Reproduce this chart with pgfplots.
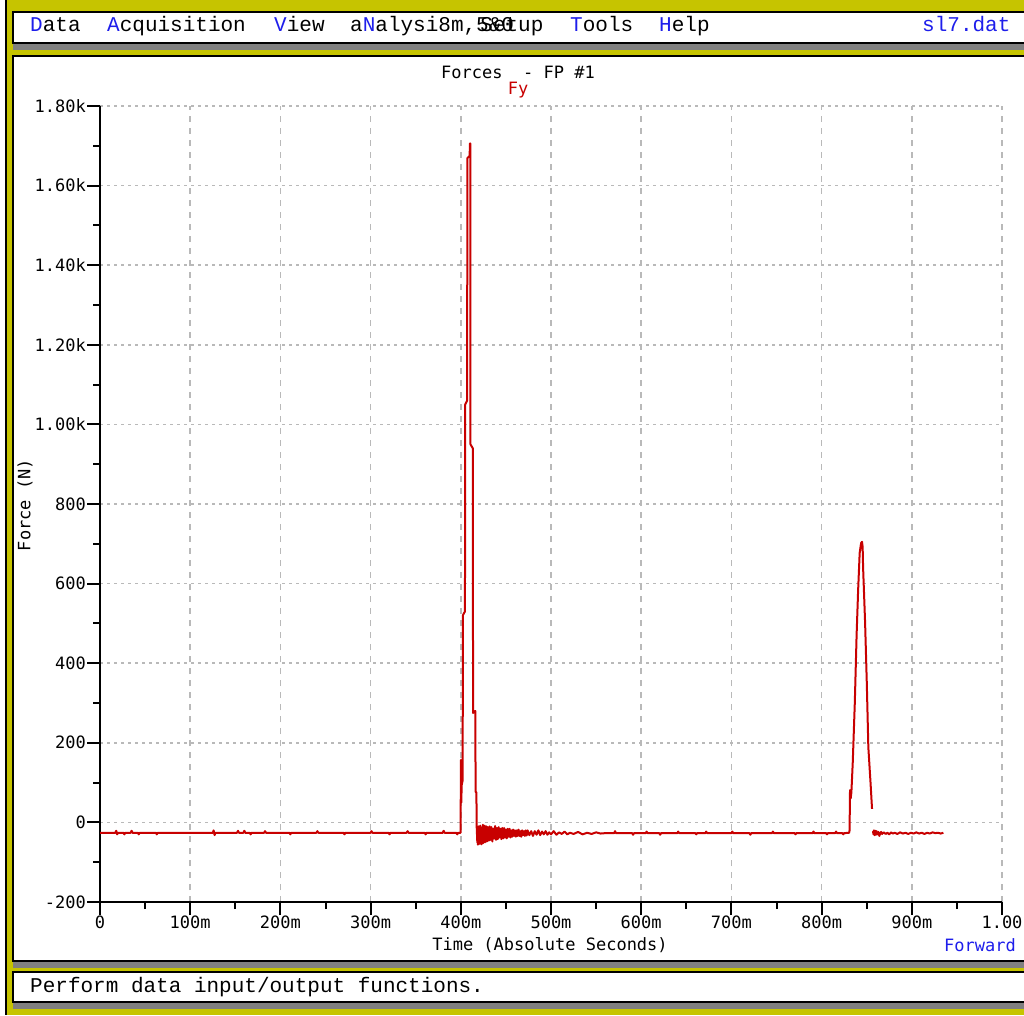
\documentclass[border=0pt]{standalone}
\usepackage{fontspec}
\usepackage{pgfplots}
\pgfplotsset{compat=1.18}
\setmainfont{Liberation Mono}
\newfontfamily\menufont{Liberation Mono}
\newfontfamily\chartfont{DejaVu Sans Mono}
\definecolor{frameyellow}{RGB}{198,196,0}
\definecolor{shadowgray}{RGB}{128,128,128}
\definecolor{menublue}{RGB}{30,30,235}
\definecolor{plotred}{RGB}{200,0,0}
\definecolor{gridgray}{RGB}{185,185,185}
\newcommand{\mf}{\menufont\fontsize{21}{24}\selectfont}
\newcommand{\cf}{\chartfont\fontsize{17}{19}\selectfont}

\begin{document}
\begin{tikzpicture}
\useasboundingbox (0pt,0pt) rectangle (1024pt,1015pt);
\clip (0pt,0pt) rectangle (1024pt,1015pt);

\begin{scope}[x=1pt,y=1pt]
  % window frame
  \fill[frameyellow] (0,0) rectangle (1024,1015);
  \fill[white] (0,0) rectangle (5,1015);
  \fill[black] (5,0) rectangle (7,1015);
  % menu bar
  \fill[shadowgray] (13,965) rectangle (1031,996);
  \draw[fill=white,line width=1.5] (13,972) rectangle (1031,1003);
  % chart panel
  \fill[shadowgray] (13,47) rectangle (1031,952);
  \draw[fill=white,line width=1.5] (13,54) rectangle (1031,959);
  % status bar
  \fill[shadowgray] (13,6) rectangle (1031,36);
  \draw[fill=white,line width=1.5] (13,13) rectangle (1031,43);

  % menu entries
  \node[anchor=base west,inner sep=0] at (30,983) {\mf\textcolor{menublue}{D}ata};
  \node[anchor=base west,inner sep=0] at (107,983) {\mf\textcolor{menublue}{A}cquisition};
  \node[anchor=base west,inner sep=0] at (274,983) {\mf\textcolor{menublue}{V}iew};
  % garbled entry: two strings printed on top of each other
  \node[anchor=base west,inner sep=0] at (350,983)
    {\mf a\textcolor{menublue}{N}alysi\rlap{8m,5\&0}\hspace{42pt}Setup};
  \node[anchor=base west,inner sep=0] at (570,983) {\mf\textcolor{menublue}{T}ools};
  \node[anchor=base west,inner sep=0] at (659,983) {\mf\textcolor{menublue}{H}elp};
  \node[anchor=base west,inner sep=0] at (922,983) {\mf\textcolor{menublue}{sl7.dat}};

  % status text
  \node[anchor=base west,inner sep=0] at (30,23) {\mf Perform data input/output functions.};

  % chart texts
  \node[inner sep=0] at (518,943) {\cf Forces\ \ - FP \#1};
  \node[inner sep=0,text=plotred] at (518,925) {\cf Fy};
  \node[inner sep=0] at (550,70) {\cf Time (Absolute Seconds)};
  \node[inner sep=0,anchor=east,text=menublue] at (1016,70) {\cf Forward};
  \node[inner sep=0,rotate=90] at (25,510) {\cf Force (N)};
\end{scope}

\begin{axis}[
  at={(100pt,113pt)}, anchor=south west,
  scale only axis, width=902pt, height=796pt,
  xmin=0, xmax=1000, ymin=-200, ymax=1800,
  axis x line=bottom, axis y line=left,
  axis line style={-, line width=2pt},
  xtick={0,100,...,1000},
  xticklabels={0,100m,200m,300m,400m,500m,600m,700m,800m,900m,1.00},
  ytick={-200,0,...,1800},
  yticklabels={-200,0,200,400,600,800,1.00k,1.20k,1.40k,1.60k,1.80k},
  minor x tick num=1, minor y tick num=1,
  tick align=outside,
  major tick length=13pt, minor tick length=7pt,
  every tick/.style={black, line width=2pt},
  tick label style={font=\cf, inner sep=1pt},
  xmajorgrids, ymajorgrids,
  x grid style={gridgray, line width=1.5pt, dash pattern=on 6pt off 6pt},
  y grid style={gridgray, line width=1.5pt, dash pattern=on 3pt off 4pt},
  clip=false,
]
% baseline and first impact (time in ms, force in N)
\addplot[plotred, line width=2pt, line join=round] table {
t v
0 -26
17 -26
18 -21
19 -30
20 -26
26 -26
27 -30
28 -26
34 -26
35 -21
36 -26
42 -26
43 -30
44 -26
62 -26
63 -30
64 -26
125 -26
126 -20
127 -32
128 -26
152 -26
153 -21
154 -26
159 -26
160 -21
161 -26
166 -26
167 -30
168 -26
182 -26
183 -22
184 -26
210 -26
211 -30
212 -26
240 -26
241 -22
242 -26
270 -26
271 -30
272 -26
300 -26
301 -22
302 -26
320 -26
321 -30
322 -26
340 -26
341 -22
342 -26
360 -26
361 -30
362 -26
380 -26
381 -21
382 -26
395 -26
396 -30
397 -26
399.8 -26
400.1 157
400.5 50
401.0 94
402.0 105
402.4 521
404.6 530
404.9 1050
407.0 1060
407.3 1669
409.8 1675
410.1 1706
410.5 1706
410.7 950
413.3 940
413.6 275
416.1 280
416.4 77
417.3 75
417.6 -10
418.3 -50
418.6 -30
419 -56
419.5 -10
420 -48
420.5 -14
421 -54
421.5 -8
422 -46
422.5 -12
423 -55
423.5 -18
424 -50
424.5 -6
425 -52
425.5 -14
426 -44
426.5 -8
427 -50
427.5 -16
428 -46
428.5 -10
429 -48
430 -12
431 -46
432 -10
433 -44
434 -12
435 -48
436 -16
437 -40
438 -9
439 -44
440 -14
441 -42
442 -12
443 -38
444 -16
445 -42
446 -14
447 -40
448 -14
449 -38
450 -18
451 -40
452 -16
453 -36
454 -16
455 -38
456 -20
457 -36
458 -18
459 -34
460 -20
461 -36
462 -20
463 -34
464 -18
465 -34
466 -22
467 -36
468 -20
469 -32
470 -22
471 -34
472 -20
473 -33
474 -20
476 -32
478 -22
480 -34
482 -22
484 -31
486 -20
488 -32
490 -23
492 -30
494 -22
496 -31
498 -25
500 -30
503 -22
506 -31
509 -25
512 -29
515 -23
518 -30
521 -26
525 -29
530 -24
535 -30
540 -26
545 -29
550 -25
555 -28
560 -27
570 -27
571 -22
572 -27
590 -27
591 -31
592 -27
605 -27
606 -23
607 -27
620 -27
621 -31
622 -27
640 -27
641 -23
642 -27
660 -27
661 -30
662 -27
671 -27
672 -23
673 -27
700 -27
701 -23
702 -27
720 -27
721 -31
722 -27
745 -27
746 -23
747 -27
770 -27
771 -30
772 -27
790 -27
791 -23
792 -27
805 -27
806 -30
807 -27
815 -27
816 -23
817 -27
823 -27
824 -30
825 -27
830.5 -26
831.0 -20
831.5 81
832.2 60
833.0 75
834.5 149
836.8 300
838.8 471
840.5 584
842.2 677
843.8 702
844.8 705
845.5 692
846.0 640
848.2 503
850.1 350
851.8 189
854.2 101
855.9 34
};
% baseline after second impact
\addplot[plotred, line width=2pt, line join=round] table {
t v
857.0 -22
857.5 -30
858 -20
858.8 -32
859.5 -21
860.3 -31
861 -22
862 -30
863 -24
864 -34
865 -27
866 -24
867 -29
869 -25
871 -29
873 -26
875 -30
877 -25
879 -28
881 -26
884 -29
887 -25
890 -28
893 -26
896 -29
899 -26
902 -28
905 -25
908 -28
911 -26
914 -29
917 -26
920 -28
923 -25
926 -27
929 -26
932 -28
935 -26
};
\end{axis}
\end{tikzpicture}
\end{document}
